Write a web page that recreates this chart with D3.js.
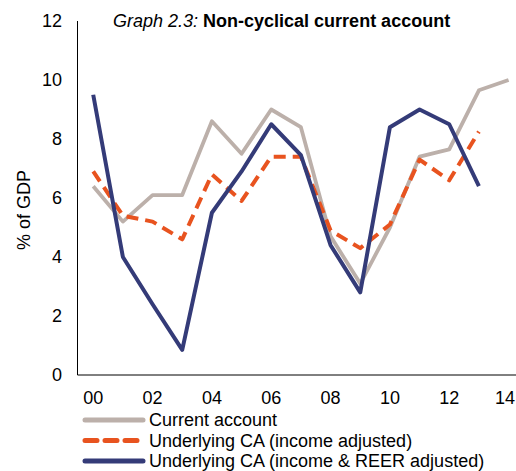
<!DOCTYPE html>
<html>
<head>
<meta charset="utf-8">
<script src="https://cdn.jsdelivr.net/npm/d3@7"></script>
<style>
  body { margin: 0; background: #fff; }
  text { font-family: "Liberation Sans", Arial, sans-serif; fill: #000; }
</style>
</head>
<body>
<div id="chart"></div>
<script>
// years 2000..2014, labels as on the axis
const years = d3.range(0, 15)
const yearLabels = ['00', '02', '04', '06', '08', '10', '12', '14']
const yTicks = [0, 2, 4, 6, 8, 10, 12]

const currentAccount = [6.4, 5.2, 6.1, 6.1, 8.6, 7.5, 9.0, 8.4, 4.7, 3.1, 5.0, 7.4, 7.65, 9.65, 10.0]
const incomeAdjusted = [6.9, 5.4, 5.2, 4.6, 6.8, 5.9, 7.4, 7.4, 4.9, 4.3, 5.1, 7.3, 6.6, 8.25]
const reerAdjusted = [9.5, 4.0, 2.4, 0.85, 5.5, 6.9, 8.5, 7.45, 4.4, 2.8, 8.4, 9.0, 8.5, 6.4]

const seriesNames = ['Current account', 'Underlying CA (income adjusted)', 'Underlying CA (income & REER adjusted)']
const seriesColors = ['#bcb0aa', '#e8531f', '#343b78']

const width = 516
const height = 471
const margin = {top: 21, right: 0, bottom: 96, left: 77.5}

const x = d3.scaleLinear()
  .domain([-0.53, 14.25])
  .range([margin.left, width])
const y = d3.scaleLinear()
  .domain([0, 12])
  .range([height - margin.bottom, margin.top])

const svg = d3.select('#chart').append('svg')
  .attr('width', width)
  .attr('height', height)

// axes: left and bottom lines only
svg.append('line')
  .attr('x1', margin.left).attr('x2', margin.left)
  .attr('y1', y(12)).attr('y2', y(0))
  .attr('stroke', '#000').attr('stroke-width', 1)
svg.append('line')
  .attr('x1', margin.left).attr('x2', width)
  .attr('y1', y(0)).attr('y2', y(0))
  .attr('stroke', '#000').attr('stroke-width', 1)

svg.append('g').selectAll('text').data(yTicks).enter().append('text')
  .attr('x', 62)
  .attr('y', d => y(d))
  .attr('dy', '0.35em')
  .attr('text-anchor', 'end')
  .style('font-size', '18px')
  .text(d => d)

// last year label would run off the edge, so keep it inside
svg.append('g').selectAll('text').data(yearLabels).enter().append('text')
  .attr('x', d => Math.min(x(+d), width - 11))
  .attr('y', y(0) + 29)
  .attr('text-anchor', 'middle')
  .style('font-size', '18px')
  .text(d => d)

svg.append('text')
  .attr('transform', 'translate(30,' + 210 + ')rotate(-90)')
  .attr('text-anchor', 'middle')
  .style('font-size', '18px')
  .text('% of GDP')

// title
const title = svg.append('text')
  .attr('x', 113)
  .attr('y', 27)
  .style('font-size', '18px')
title.append('tspan').style('font-style', 'italic').text('Graph 2.3: ')
title.append('tspan').style('font-weight', 'bold').text('Non-cyclical current account')

const line = d3.line()
  .x((d, i) => x(years[i]))
  .y(d => y(d))

const data = [currentAccount, incomeAdjusted, reerAdjusted]
const dashes = [null, '12,7', null]
const widths = [3.8, 4, 4]

svg.append('g').selectAll('path').data(data).enter().append('path')
  .attr('d', line)
  .attr('fill', 'none')
  .attr('stroke', (d, i) => seriesColors[i])
  .attr('stroke-width', (d, i) => widths[i])
  .attr('stroke-dasharray', (d, i) => dashes[i])
  .attr('stroke-linejoin', 'round')

// legend
const legend = svg.append('g').selectAll('g').data(seriesNames).enter().append('g')
  .attr('transform', (d, i) => 'translate(0,' + (420 + i * 20.5) + ')')
legend.append('line')
  .attr('x1', 85).attr('x2', 143)
  .attr('stroke', (d, i) => seriesColors[i])
  .attr('stroke-width', 5)
  .attr('stroke-linecap', 'round')
  .attr('stroke-dasharray', (d, i) => i === 1 ? '12,8' : null)
legend.append('text')
  .attr('x', 149)
  .attr('dy', '0.35em')
  .style('font-size', '18px')
  .text(d => d)
</script>
</body>
</html>
